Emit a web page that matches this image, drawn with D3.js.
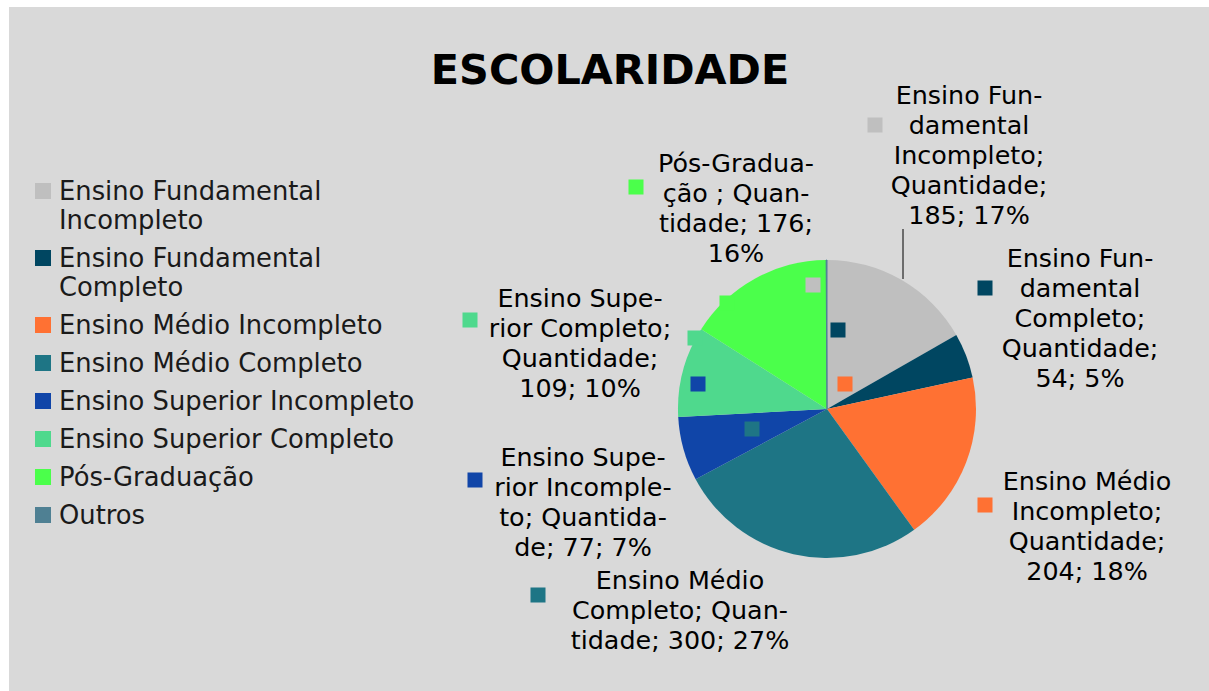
<!DOCTYPE html>
<html>
<head>
<meta charset="utf-8">
<title>Escolaridade</title>
<style>
	body { margin: 0; background: #fff; }
	svg text { font-family: "DejaVu Sans", sans-serif; fill: #000; }
	.legend text { fill: #1a1a1a; }
</style>
</head>
<body>
<svg id="chart"></svg>
<script src="https://cdn.jsdelivr.net/npm/d3@7/dist/d3.min.js"></script>
<script>
// data
var categories = ['Ensino Fundamental Incompleto', 'Ensino Fundamental Completo',
	'Ensino Médio Incompleto', 'Ensino Médio Completo', 'Ensino Superior Incompleto',
	'Ensino Superior Completo', 'Pós-Graduação', 'Outros'];
var values = [185, 54, 204, 300, 77, 109, 176, 1];
var percents = ['17%', '5%', '18%', '27%', '7%', '10%', '16%', ''];
var colors = ['#bfbfbf', '#004661', '#ff7133', '#1e7585', '#1045a8', '#4fd98d', '#4bff4b', '#4f8093'];

// legend lines (wrapped the way the original wraps them)
var legendLines = [['Ensino Fundamental', 'Incompleto'], ['Ensino Fundamental', 'Completo'],
	['Ensino Médio Incompleto'], ['Ensino Médio Completo'], ['Ensino Superior Incompleto'],
	['Ensino Superior Completo'], ['Pós-Graduação'], ['Outros']];

// data label lines, hyphenated like the original
var labelLines = [
	['Ensino Fun-', 'damental', 'Incompleto;', 'Quantidade;', '185; 17%'],
	['Ensino Fun-', 'damental', 'Completo;', 'Quantidade;', '54; 5%'],
	['Ensino Médio', 'Incompleto;', 'Quantidade;', '204; 18%'],
	['Ensino Médio', 'Completo; Quan-', 'tidade; 300; 27%'],
	['Ensino Supe-', 'rior Incomple-', 'to; Quantida-', 'de; 77; 7%'],
	['Ensino Supe-', 'rior Completo;', 'Quantidade;', '109; 10%'],
	['Pós-Gradua-', 'ção ; Quan-', 'tidade; 176;', '16%']
];

// layout of the labels: text center x, first line y, key square center
var labelPos = [
	{ x: 969, y: 95, kx: 875, ky: 125 },
	{ x: 1080, y: 258, kx: 985, ky: 288 },
	{ x: 1087, y: 481, kx: 985, ky: 505 },
	{ x: 680, y: 580, kx: 538, ky: 595 },
	{ x: 583, y: 457, kx: 475, ky: 480 },
	{ x: 580, y: 298, kx: 470, ky: 320 },
	{ x: 736, y: 163, kx: 636, ky: 187 }
];
// stray key squares drawn inside the pie (offset from pie center)
var strayKeys = [[-14, -124], [11, -79], [18, -25], [-75, 20], [-129, -25], [-132, -71], [-100, -106]];

var W = 1209, H = 691;
var svg = d3.select('#chart').attr('width', W).attr('height', H);

svg.append('rect').attr('x', 9).attr('y', 7).attr('width', W - 9).attr('height', H - 7)
	.attr('fill', '#d9d9d9');

svg.append('text').attr('x', 610).attr('y', 84).attr('text-anchor', 'middle')
	.style('font-size', '41.4px').style('font-weight', 'bold').text('ESCOLARIDADE');

// pie
var cx = 827, cy = 409, r = 149;
var pie = d3.pie().sort(null).value(function (d) { return d; });
var arc = d3.arc().innerRadius(0).outerRadius(r);
var g = svg.append('g').attr('transform', 'translate(' + cx + ',' + cy + ')');
g.selectAll('path')
	.data(pie(values))
	.enter()
	.append('path')
	.attr('d', arc)
	.attr('fill', function (d, i) { return colors[i]; })
	.attr('stroke', function (d, i) { return i === 7 ? colors[i] : 'none'; })
	.attr('stroke-width', 1);

g.selectAll('rect.stray')
	.data(strayKeys)
	.enter()
	.append('rect')
	.attr('class', 'stray')
	.attr('x', function (d) { return d[0] - 7.5; })
	.attr('y', function (d) { return d[1] - 7.5; })
	.attr('width', 15).attr('height', 15)
	.attr('fill', function (d, i) { return colors[i]; });

// leader line for the first label
svg.append('line').attr('x1', 903).attr('y1', 229).attr('x2', 903).attr('y2', 279)
	.attr('stroke', '#000').attr('stroke-width', 1);

// data labels
var labels = svg.selectAll('g.label')
	.data(labelLines)
	.enter()
	.append('g')
	.attr('class', 'label');
labels.append('rect')
	.attr('x', function (d, i) { return labelPos[i].kx - 7.5; })
	.attr('y', function (d, i) { return labelPos[i].ky - 7.5; })
	.attr('width', 15).attr('height', 15)
	.attr('fill', function (d, i) { return colors[i]; });
labels.each(function (lines, i) {
	var t = d3.select(this).append('text')
		.attr('text-anchor', 'middle')
		.style('font-size', '25.4px');
	lines.forEach(function (s, j) {
		t.append('tspan').attr('x', labelPos[i].x).attr('y', labelPos[i].y + j * 30)
			.attr('dy', '0.35em').text(s);
	});
});

// legend
var legend = svg.append('g').attr('class', 'legend');
var ly = 191;
categories.forEach(function (c, i) {
	legend.append('rect').attr('x', 35).attr('y', ly - 8).attr('width', 16).attr('height', 16)
		.attr('fill', colors[i]);
	var t = legend.append('text').style('font-size', '25.8px');
	legendLines[i].forEach(function (s, j) {
		t.append('tspan').attr('x', 59).attr('y', ly + j * 29).attr('dy', '0.35em').text(s);
	});
	ly += 38 + (legendLines[i].length - 1) * 29;
});
</script>
</body>
</html>
